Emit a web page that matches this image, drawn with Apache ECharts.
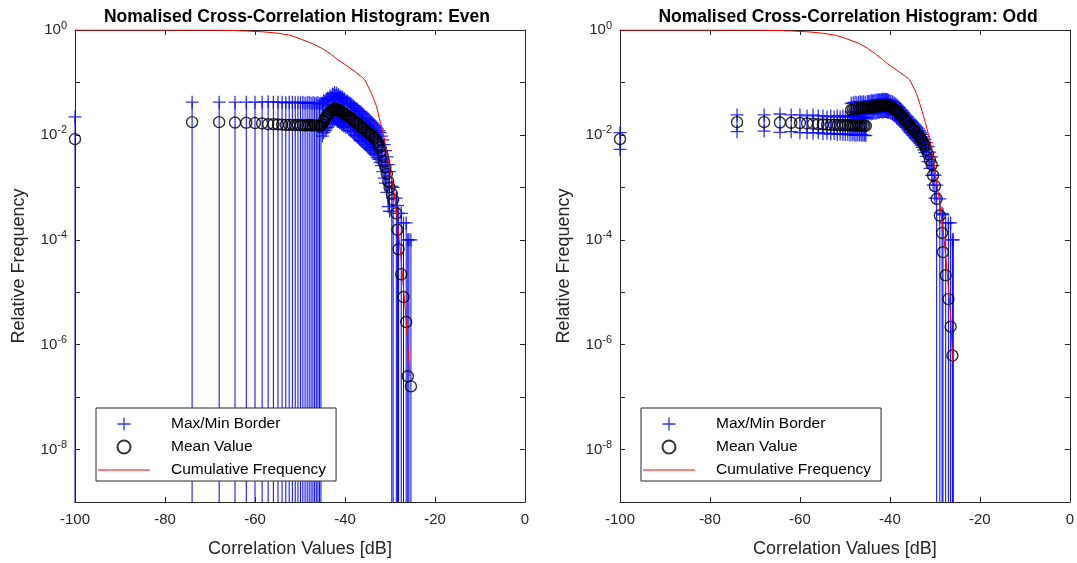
<!DOCTYPE html>
<html><head><meta charset="utf-8">
<script src="https://cdn.jsdelivr.net/npm/echarts@6/dist/echarts.min.js"></script>
<style>html,body{margin:0;padding:0;background:#fff}#c{width:1077px;height:563px}</style>
</head><body><div id="c"></div>
<script>
// ---------- DATA ----------
const titles = ['Nomalised Cross-Correlation Histogram: Even', 'Nomalised Cross-Correlation Histogram: Odd'];
const xTicks = [-100, -80, -60, -40, -20, 0];
const legendNames = ['Max/Min Border', 'Mean Value', 'Cumulative Frequency'];

// EVEN: low-level bins (lower border is zero)
const evenFlatX = [-100, -73.98, -67.96, -64.44, -61.94, -60.00, -58.42, -57.08, -55.92, -54.89, -53.98, -53.15, -52.40, -51.70, -51.06, -50.46, -49.90, -49.37, -48.87, -48.40, -47.96, -47.54, -47.13, -46.75, -46.38, -46.02, -45.68, -45.35];
const evenFlatMean = [0.0083, 0.0175, 0.0175, 0.0172, 0.0170, 0.0168, 0.0165, 0.0160, 0.0160, 0.0158, 0.0157, 0.0155, 0.0155, 0.0155, 0.0153, 0.0155, 0.0152, 0.0155, 0.0150, 0.0153, 0.0155, 0.0152, 0.0150, 0.0155, 0.0153, 0.0150, 0.0152, 0.0150];
const evenFlatMax = [0.022, 0.042, 0.042, 0.042, 0.042, 0.042, 0.042, 0.043, 0.042, 0.042, 0.042, 0.041, 0.042, 0.042, 0.041, 0.042, 0.041, 0.042, 0.040, 0.041, 0.042, 0.040, 0.041, 0.040, 0.040, 0.041, 0.039, 0.040];
// EVEN: peak bins (both borders)
const evenPeakX = [-45.04, -44.75, -44.45, -44.16, -43.88, -43.60, -43.33, -43.07, -42.81, -42.56, -42.32, -42.08, -41.85, -41.62, -41.40, -41.18, -40.96, -40.75, -40.55, -40.35, -40.15, -39.80, -39.45, -39.10, -38.80, -38.50, -38.20, -37.90, -37.60, -37.30, -37.00, -36.70, -36.40, -36.10, -35.80, -35.50, -35.20, -34.90, -34.60, -34.30, -34.00, -33.70, -33.40, -33.10, -32.80, -32.50, -32.20, -31.90, -31.60, -31.30, -31.00, -30.70, -30.40, -30.10];
const evenPeakMean = [0.016, 0.018, 0.020, 0.022, 0.024, 0.026, 0.027, 0.029, 0.030, 0.031, 0.032, 0.031, 0.030, 0.030, 0.029, 0.029, 0.028, 0.027, 0.027, 0.026, 0.025, 0.024, 0.023, 0.022, 0.021, 0.020, 0.019, 0.018, 0.017, 0.0165, 0.016, 0.015, 0.014, 0.0135, 0.013, 0.012, 0.0115, 0.011, 0.0105, 0.010, 0.0095, 0.009, 0.0085, 0.0079, 0.0072, 0.0066, 0.0059, 0.0050, 0.0040, 0.0031, 0.0024, 0.0018, 0.0013, 0.0010];
const evenPeakMax = [0.040, 0.045, 0.044, 0.048, 0.050, 0.047, 0.055, 0.052, 0.060, 0.058, 0.064, 0.056, 0.062, 0.055, 0.058, 0.052, 0.054, 0.050, 0.052, 0.047, 0.049, 0.045, 0.044, 0.041, 0.040, 0.038, 0.036, 0.034, 0.032, 0.031, 0.029, 0.028, 0.027, 0.025, 0.024, 0.022, 0.021, 0.020, 0.019, 0.018, 0.017, 0.016, 0.015, 0.014, 0.013, 0.012, 0.011, 0.0095, 0.0080, 0.0065, 0.0050, 0.0038, 0.0027, 0.0020];
const evenPeakMin = [0.0095, 0.011, 0.012, 0.013, 0.014, 0.016, 0.017, 0.018, 0.019, 0.020, 0.019, 0.020, 0.019, 0.018, 0.018, 0.017, 0.017, 0.016, 0.016, 0.015, 0.015, 0.014, 0.014, 0.013, 0.012, 0.012, 0.011, 0.010, 0.0098, 0.0092, 0.0088, 0.0082, 0.0078, 0.0074, 0.0070, 0.0066, 0.0062, 0.0058, 0.0055, 0.0052, 0.0050, 0.0047, 0.0044, 0.0041, 0.0037, 0.0034, 0.0030, 0.0026, 0.0020, 0.0015, 0.0012, 0.0008, 0.00043, 0.00035];
// EVEN: tail bins (lower border is zero)
const evenTailX = [-29.60, -29.30, -28.60, -28.35, -28.10, -27.50, -27.00, -26.40, -26.05, -25.80, -25.35];
const evenTailMean = [7.5e-4, 5.8e-4, 3.2e-4, 1.55e-4, 6.6e-5, 2.2e-5, 8.1e-6, 2.7e-6, 2.5e-7, null, 1.6e-7];
const evenTailMax = [1.05e-3, 1.0e-3, 6.2e-4, 4.5e-4, 3.2e-4, 3.2e-4, 2.1e-4, 2.1e-4, 1.0e-4, 1.0e-4, 1.0e-4];
// EVEN: cumulative frequency
const evenCumX = [-100, -90, -80, -70, -65, -61.9, -58, -55, -52, -50, -47, -45, -43, -41.6, -40, -38, -36.5, -35.6, -34.1, -33.0, -32.1, -31.5, -30.7, -29.6, -29.1, -28.5, -28.0, -27.5, -27.0, -26.5, -26.0, -25.6];
const evenCum = [1, 1, 0.9995, 0.995, 0.985, 0.957, 0.92, 0.87, 0.79, 0.68, 0.54, 0.44, 0.34, 0.27, 0.22, 0.166, 0.132, 0.112, 0.062, 0.035, 0.0166, 0.0107, 0.0045, 0.00138, 0.00079, 0.0003, 0.00011, 0.00004, 0.000012, 0.0000035, 0.0000009, 0.00000025];

// ODD: low-level bins (both borders)
const oddFlatX = [-100, -73.98, -67.96, -64.44, -61.94, -60.00, -58.42, -57.08, -55.92, -54.89, -53.98, -53.15, -52.40, -51.70, -51.06, -50.46, -49.90, -49.37, -48.87, -48.40, -47.96, -47.54, -47.13, -46.75, -46.38, -46.02, -45.68, -45.35];
const oddFlatMean = [0.0083, 0.0175, 0.0175, 0.0172, 0.0170, 0.0168, 0.0165, 0.0163, 0.0160, 0.0158, 0.0157, 0.0155, 0.0155, 0.0154, 0.0153, 0.0155, 0.0152, 0.0154, 0.0151, 0.0153, 0.0152, 0.0150, 0.0152, 0.0150, 0.0151, 0.0149, 0.0150, 0.0148];
const oddFlatMax = [0.011, 0.024, 0.024, 0.025, 0.024, 0.024, 0.023, 0.024, 0.023, 0.023, 0.022, 0.023, 0.022, 0.023, 0.022, 0.023, 0.022, 0.023, 0.022, 0.022, 0.023, 0.022, 0.022, 0.021, 0.022, 0.021, 0.022, 0.021];
const oddFlatMin = [0.0053, 0.0115, 0.0118, 0.0112, 0.0115, 0.0110, 0.0110, 0.0108, 0.0110, 0.0105, 0.0108, 0.0104, 0.0106, 0.0102, 0.0104, 0.0103, 0.0101, 0.0103, 0.0100, 0.0102, 0.0100, 0.0098, 0.0101, 0.0099, 0.0100, 0.0098, 0.0099, 0.0097];
// ODD: peak bins
const oddPeakX = [-48.60, -48.15, -47.75, -47.35, -46.95, -46.55, -46.20, -45.85, -45.50, -45.04, -44.75, -44.45, -44.16, -43.88, -43.60, -43.33, -43.07, -42.81, -42.56, -42.32, -42.08, -41.85, -41.62, -41.40, -41.18, -40.96, -40.75, -40.55, -40.35, -40.15, -39.80, -39.45, -39.10, -38.80, -38.50, -38.20, -37.90, -37.60, -37.30, -37.00, -36.70, -36.40, -36.10, -35.80, -35.50, -35.20, -34.90, -34.60, -34.30, -34.00, -33.70, -33.40, -33.10, -32.80, -32.50, -32.20, -31.90, -31.50, -31.10, -30.70, -30.40, -30.00];
const oddPeakMean = [0.030, 0.031, 0.031, 0.032, 0.032, 0.032, 0.033, 0.033, 0.033, 0.034, 0.033, 0.034, 0.034, 0.035, 0.034, 0.035, 0.035, 0.036, 0.035, 0.036, 0.036, 0.037, 0.036, 0.037, 0.036, 0.037, 0.037, 0.036, 0.036, 0.035, 0.034, 0.033, 0.031, 0.030, 0.028, 0.027, 0.025, 0.024, 0.022, 0.021, 0.019, 0.018, 0.017, 0.0155, 0.0145, 0.0135, 0.0127, 0.0120, 0.0112, 0.0105, 0.0098, 0.0091, 0.0084, 0.0077, 0.0069, 0.0061, 0.0052, 0.0043, 0.0033, 0.0027, 0.0017, 0.00105];
const oddPeakMax = [0.040, 0.041, 0.042, 0.041, 0.042, 0.043, 0.042, 0.043, 0.042, 0.044, 0.043, 0.044, 0.045, 0.045, 0.044, 0.046, 0.045, 0.047, 0.046, 0.047, 0.046, 0.048, 0.047, 0.048, 0.047, 0.048, 0.047, 0.047, 0.046, 0.045, 0.044, 0.043, 0.041, 0.039, 0.037, 0.035, 0.033, 0.031, 0.029, 0.027, 0.025, 0.023, 0.022, 0.020, 0.019, 0.018, 0.017, 0.016, 0.015, 0.014, 0.013, 0.012, 0.011, 0.0102, 0.0092, 0.0082, 0.0071, 0.0060, 0.0047, 0.0038, 0.0026, 0.0017];
const oddPeakMin = [0.023, 0.024, 0.024, 0.025, 0.025, 0.024, 0.025, 0.025, 0.026, 0.026, 0.025, 0.026, 0.025, 0.026, 0.026, 0.027, 0.026, 0.027, 0.027, 0.027, 0.028, 0.028, 0.027, 0.028, 0.028, 0.028, 0.028, 0.027, 0.027, 0.027, 0.026, 0.025, 0.024, 0.023, 0.021, 0.020, 0.019, 0.018, 0.017, 0.016, 0.015, 0.014, 0.013, 0.012, 0.011, 0.0105, 0.0098, 0.0092, 0.0086, 0.0080, 0.0075, 0.0070, 0.0064, 0.0058, 0.0052, 0.0046, 0.0039, 0.0031, 0.0023, 0.0017, 0.0011, 0.00062];
// ODD: tail bins (lower border is zero)
const oddTailX = [-29.60, -28.90, -28.40, -28.20, -27.60, -27.00, -26.50, -26.10, -25.90];
const oddTailMean = [6.0e-4, 2.9e-4, 1.35e-4, 5.8e-5, 2.1e-5, 7.4e-6, 2.2e-6, 6.2e-7, null];
const oddTailMax = [1.1e-3, 6.0e-4, 3.2e-4, 3.0e-4, 2.1e-4, 2.1e-4, 2.1e-4, 1.0e-4, 1.0e-4];
// ODD: cumulative frequency
const oddCumX = [-100, -90, -80, -70, -65, -62, -58, -55, -52, -50, -47, -45, -43, -41.6, -40, -38, -36.5, -35.6, -34.1, -33.3, -32.1, -31.1, -30.3, -29.6, -29.1, -28.5, -28.0, -27.5, -27.0, -26.5, -26.0];
const oddCum = [1, 1, 0.9995, 0.995, 0.985, 0.96, 0.92, 0.87, 0.79, 0.70, 0.56, 0.45, 0.34, 0.27, 0.21, 0.16, 0.13, 0.112, 0.062, 0.038, 0.017, 0.0079, 0.0032, 0.00125, 0.00065, 0.00028, 0.00011, 0.00004, 0.000013, 0.0000035, 0.00000045];

// ---------- CHART ----------
const FONT = "'Liberation Sans', Arial, Helvetica, sans-serif";
const TXT = '#262626';
const PLUS = 'path://M0,5.85H13V7.15H0Z M5.85,0H7.15V13H5.85Z';
const LINEICON = 'path://M0,0H52V1.2H0Z';
const nulls = a => a.map(() => null);

function assemble(fx, fm, fmax, fmin, px, pm, pmax, pmin, tx, tm, tmax) {
  return {
    x: fx.concat(px, tx),
    mean: fm.concat(pm, tm),
    max: fmax.concat(pmax, tmax),
    min: (fmin || nulls(fx)).concat(pmin, nulls(tx))
  };
}
const plots = [
  Object.assign(assemble(evenFlatX, evenFlatMean, evenFlatMax, null, evenPeakX, evenPeakMean, evenPeakMax, evenPeakMin, evenTailX, evenTailMean, evenTailMax), {cx: evenCumX, cy: evenCum}),
  Object.assign(assemble(oddFlatX, oddFlatMean, oddFlatMax, oddFlatMin, oddPeakX, oddPeakMean, oddPeakMax, oddPeakMin, oddTailX, oddTailMean, oddTailMax), {cx: oddCumX, cy: oddCum})
];
const gridLeft = [75, 620];
const titleCenter = [292, 843];

const grid = gridLeft.map(l => ({left: l, top: 30, width: 450, height: 473, show: false}));
const xAxis = [], yAxis = [], series = [], title = [], legend = [];
plots.forEach((p, gi) => {
  ['bottom', 'top'].forEach(pos => xAxis.push({
    type: 'value', gridIndex: gi, position: pos, min: xTicks[0], max: xTicks[xTicks.length - 1], interval: 20,
    axisLine: {show: true, onZero: false, lineStyle: {color: TXT, width: 1}},
    axisTick: {show: true, inside: true, length: 5, lineStyle: {color: TXT}},
    axisLabel: {show: pos === 'bottom', color: TXT, fontSize: 15, fontFamily: FONT, margin: 10},
    splitLine: {show: false},
    name: pos === 'bottom' ? 'Correlation Values [dB]' : '', nameLocation: 'middle', nameGap: 38,
    nameTextStyle: {color: TXT, fontSize: 18, fontFamily: FONT}
  }));
  ['left', 'right'].forEach(pos => yAxis.push({
    type: 'log', logBase: 10, gridIndex: gi, position: pos, min: 1e-9, max: 1, interval: 1,
    axisLine: {show: true, onZero: false, lineStyle: {color: TXT, width: 1}},
    axisTick: {show: true, inside: true, length: 5, lineStyle: {color: TXT}},
    axisLabel: {show: pos === 'left', color: TXT, fontFamily: FONT, margin: 8,
      formatter: v => { const e = Math.round(Math.log10(v)); return e % 2 === 0 ? '{b|10}{s|' + e + '}' : ''; },
      rich: {b: {fontSize: 15, color: TXT, fontFamily: FONT}, s: {fontSize: 11, color: TXT, fontFamily: FONT, padding: [0, 0, 9, 0]}}},
    splitLine: {show: false},
    name: pos === 'left' ? 'Relative Frequency' : '', nameLocation: 'middle', nameGap: 47,
    nameTextStyle: {color: TXT, fontSize: 18, fontFamily: FONT}
  }));
  const xa = gi * 2, ya = gi * 2;
  const bars = p.x.map((x, i) => [x, p.max[i], p.min[i] == null ? 0 : p.min[i]]);
  const plus = p.x.map((x, i) => [x, p.max[i]]).concat(
    p.x.map((x, i) => [x, p.min[i]]).filter(d => d[1] != null));
  const circ = p.x.map((x, i) => [x, p.mean[i]]).filter(d => d[1] != null);
  series.push({
    type: 'custom', name: 'bars' + gi, xAxisIndex: xa, yAxisIndex: ya, z: 1,
    dimensions: ['x', 'hi', 'lo'], encode: {x: 0, y: 1}, data: bars, silent: true,
    renderItem: (params, api) => {
      const x = api.value(0), hi = api.value(1), lo = api.value(2);
      const top = api.coord([x, hi]);
      const cs = params.coordSys;
      const by = lo > 0 ? api.coord([x, lo])[1] : cs.y + cs.height;
      return {type: 'line', shape: {x1: top[0], y1: top[1], x2: top[0], y2: by},
        style: {stroke: '#0000ff', lineWidth: 1}};
    }
  });
  series.push({type: 'scatter', name: legendNames[0], xAxisIndex: xa, yAxisIndex: ya, z: 2,
    symbol: PLUS, symbolSize: 13, itemStyle: {color: '#0000ff'}, data: plus, silent: true});
  series.push({type: 'scatter', name: legendNames[1], xAxisIndex: xa, yAxisIndex: ya, z: 3,
    symbol: 'circle', symbolSize: 11, itemStyle: {color: 'rgba(0,0,0,0)', borderColor: '#000', borderWidth: 1.4},
    data: circ, silent: true});
  series.push({type: 'line', name: legendNames[2], xAxisIndex: xa, yAxisIndex: ya, z: 4,
    symbol: 'none', lineStyle: {color: '#ff0000', width: 1}, itemStyle: {color: '#ff0000'},
    data: p.cx.map((x, i) => [x, p.cy[i]]), silent: true});
  title.push({text: titles[gi], left: titleCenter[gi], top: 3, textAlign: 'center',
    textStyle: {fontSize: 17.5, fontWeight: 'bold', color: '#000', fontFamily: FONT}});
  legend.push({left: gridLeft[gi] + 21, top: 408, orient: 'vertical', padding: [8, 10, 3, 2],
    itemWidth: 52, itemHeight: 13, itemGap: 7, borderColor: TXT, borderWidth: 1, backgroundColor: '#fff',
    selectedMode: false,
    textStyle: {fontSize: 15.5, lineHeight: 16, color: '#000', fontFamily: FONT, padding: [0, 0, 0, 16]},
    data: [{name: legendNames[0]}, {name: legendNames[1]}, {name: legendNames[2], icon: LINEICON}]});
});

const chart = echarts.init(document.getElementById('c'), null, {renderer: 'canvas'});
chart.setOption({animation: false, backgroundColor: '#fff', title, legend, grid, xAxis, yAxis, series});
</script>
</body></html>
